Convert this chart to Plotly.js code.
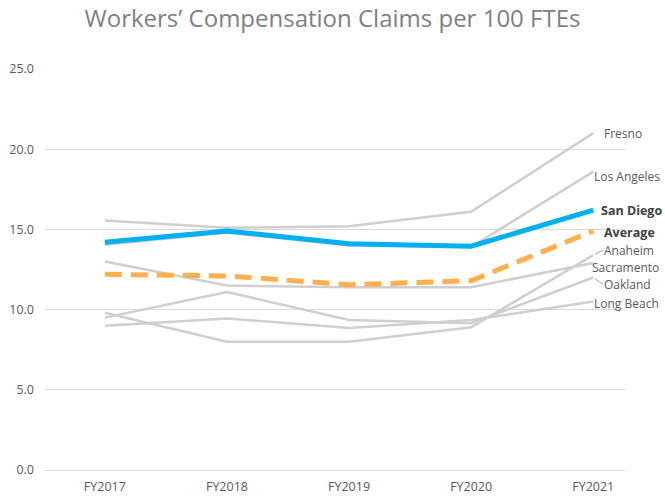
<!DOCTYPE html>
<html>
<head>
<meta charset="utf-8">
<script src="https://cdn.plot.ly/plotly-3.0.1.min.js"></script>
<style>html,body{margin:0;padding:0;background:#fff;}#chart{width:665px;height:502px;}</style>
</head>
<body>
<div id="chart"></div>
<script>
const years = ['FY2017', 'FY2018', 'FY2019', 'FY2020', 'FY2021'];
const yTicks = [0, 5, 10, 15, 20, 25];
const yTickText = ['0.0', '5.0', '10.0', '15.0', '20.0', '25.0'];

const fresno     = [15.55, 15.1, 15.2, 16.1, 21.0];
const losAngeles = [14.05, 14.8, 14.0, 13.9, 18.6];
const sacramento = [13.0, 11.5, 11.4, 11.4, 12.9];
const anaheim    = [9.8, 8.0, 8.0, 8.9, 13.4];
const oakland    = [9.5, 11.1, 9.35, 9.15, 12.0];
const longBeach  = [9.0, 9.45, 8.85, 9.35, 10.5];
const average    = [12.2, 12.1, 11.55, 11.8, 14.9];
const sanDiego   = [14.2, 14.9, 14.1, 13.95, 16.2];

const grayColor = '#cfcfcf';
const grays = [
  {name: 'Fresno', y: fresno, xs: 10, ys: 0},
  {name: 'Los Angeles', y: losAngeles, xs: 0, ys: -4.5},
  {name: 'Sacramento', y: sacramento, xs: -2, ys: -4},
  {name: 'Anaheim', y: anaheim, ax: 10, ay: -5, hook: true},
  {name: 'Oakland', y: oakland, ax: 10, ay: 7, hook: true},
  {name: 'Long Beach', y: longBeach, xs: 0, ys: -1.5}
];

const traces = grays.map(g => ({
  x: years, y: g.y, type: 'scatter', mode: 'lines', name: g.name,
  line: {color: grayColor, width: 2.5}, hoverinfo: 'skip'
}));
traces.push({
  x: years, y: average, type: 'scatter', mode: 'lines', name: 'Average',
  line: {color: '#ffb04a', width: 5, dash: '17px,9px'}
});
traces.push({
  x: years, y: sanDiego, type: 'scatter', mode: 'lines', name: 'San Diego',
  line: {color: '#00b0f0', width: 5}
});

const labelFont = {family: 'Open Sans, sans-serif', size: 12, color: '#595959'};
const annotations = grays.map(g => {
  if (g.hook) {
    return {
      x: years[4], y: g.y[4], xref: 'x', yref: 'y', text: g.name,
      xanchor: 'left', yanchor: 'middle', showarrow: true, arrowhead: 0,
      arrowwidth: 1, arrowcolor: '#a6a6a6', ax: g.ax, ay: g.ay, standoff: 2,
      borderpad: 0, font: labelFont
    };
  }
  return {
    x: years[4], y: g.y[4], xref: 'x', yref: 'y', text: g.name,
    xanchor: 'left', yanchor: 'middle', xshift: g.xs, yshift: g.ys,
    showarrow: false, borderpad: 0, font: labelFont
  };
});
annotations.push({
  x: years[4], y: sanDiego[4], xref: 'x', yref: 'y', text: '<b>San Diego</b>',
  xanchor: 'left', yanchor: 'middle', xshift: 6, showarrow: false, font: {...labelFont, size: 12.5, color: '#404040'}
});
annotations.push({
  x: years[4], y: average[4], xref: 'x', yref: 'y', text: '<b>Average</b>',
  xanchor: 'left', yanchor: 'middle', xshift: 9, yshift: -1, showarrow: false, font: {...labelFont, size: 12.5, color: '#404040'}
});

const layout = {
  width: 665, height: 502,
  margin: {l: 45, r: 40, t: 69, b: 32},
  paper_bgcolor: '#fff', plot_bgcolor: '#fff',
  showlegend: false,
  title: {
    text: 'Workers’ Compensation Claims per 100 FTEs',
    font: {family: 'Open Sans, sans-serif', size: 24, color: '#808080'},
    x: 0.5, xanchor: 'center', xref: 'container',
    y: 0.963, yanchor: 'middle', yref: 'container'
  },
  xaxis: {
    type: 'category', range: [-0.49, 4.26],
    showgrid: false, zeroline: false, showline: false, ticks: '',
    tickfont: {family: 'Open Sans, sans-serif', size: 12.5, color: '#595959'},
    ticklabelstandoff: 7, fixedrange: true
  },
  yaxis: {
    range: [0, 25], tickvals: yTicks, ticktext: yTickText,
    showgrid: true, gridcolor: '#dadada', gridwidth: 1,
    zeroline: true, zerolinecolor: '#dadada', zerolinewidth: 1,
    showline: false, ticks: '',
    tickfont: {family: 'Open Sans, sans-serif', size: 12.5, color: '#595959'},
    ticklabelstandoff: 10, fixedrange: true
  },
  annotations: annotations
};

Plotly.newPlot('chart', traces, layout, {displayModeBar: false, staticPlot: true});
</script>
</body>
</html>
